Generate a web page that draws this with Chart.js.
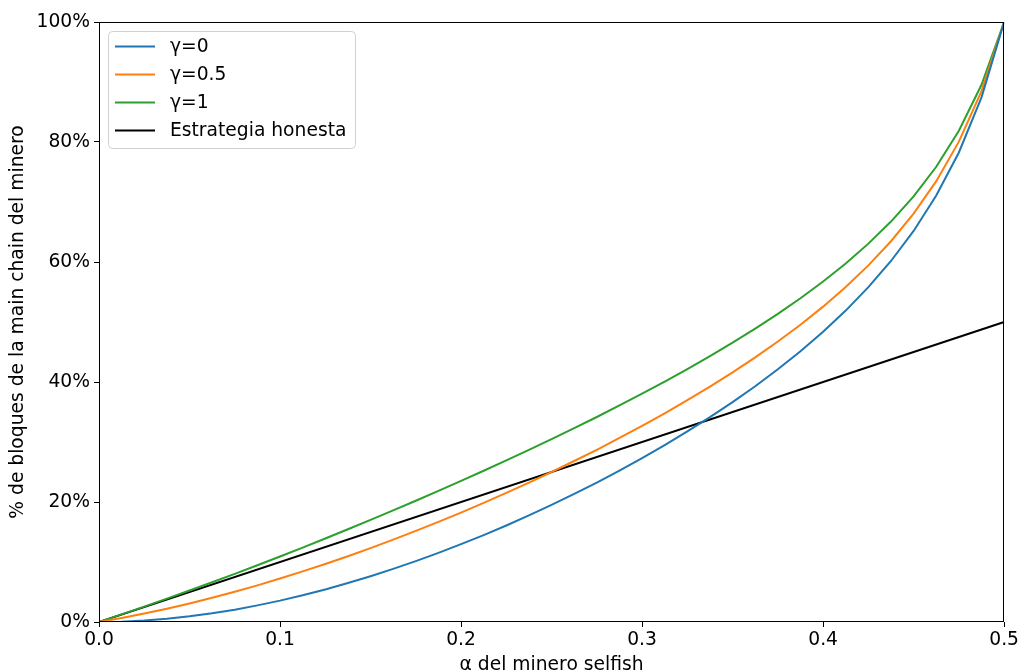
<!DOCTYPE html>
<html>
<head>
<meta charset="utf-8">
<script src="https://cdn.jsdelivr.net/npm/chart.js@4.4.0/dist/chart.umd.min.js"></script>
<style>
  body { margin: 0; background: #fff; }
  #wrap { width: 1021px; height: 671px; }
</style>
</head>
<body>
<div id="wrap"><canvas id="myChart" width="1021" height="671"></canvas></div>
<script>
// alpha del minero selfish
const alphas = [0, 0.0125, 0.025, 0.0375, 0.05, 0.0625, 0.075, 0.0875, 0.1, 0.1125,
  0.125, 0.1375, 0.15, 0.1625, 0.175, 0.1875, 0.2, 0.2125, 0.225, 0.2375,
  0.25, 0.2625, 0.275, 0.2875, 0.3, 0.3125, 0.325, 0.3375, 0.35, 0.3625,
  0.375, 0.3875, 0.4, 0.4125, 0.425, 0.4375, 0.45, 0.4625, 0.475, 0.4875, 0.5];

// % de bloques (0-100)
const gamma0 = [0, 0.06, 0.24, 0.54, 0.94, 1.45, 2.06, 2.77, 3.56, 4.45,
  5.43, 6.49, 7.63, 8.85, 10.14, 11.52, 12.97, 14.49, 16.09, 17.76,
  19.51, 21.34, 23.24, 25.24, 27.31, 29.48, 31.76, 34.14, 36.65, 39.30,
  42.12, 45.13, 48.37, 51.90, 55.80, 60.17, 65.18, 71.07, 78.25, 87.45, 100];
const gamma05 = [0, 0.66, 1.40, 2.21, 3.09, 4.03, 5.04, 6.11, 7.24, 8.43,
  9.67, 10.97, 12.32, 13.72, 15.18, 16.68, 18.24, 19.85, 21.51, 23.23,
  25.00, 26.83, 28.70, 30.67, 32.69, 34.78, 36.96, 39.23, 41.60, 44.10,
  46.74, 49.54, 52.56, 55.83, 59.43, 63.46, 68.06, 73.47, 80.06, 88.49, 100];
const gamma1 = [0, 1.27, 2.56, 3.89, 5.24, 6.62, 8.03, 9.46, 10.92, 12.40,
  13.91, 15.45, 17.01, 18.60, 20.21, 21.85, 23.52, 25.21, 26.94, 28.70,
  30.49, 32.32, 34.17, 36.10, 38.06, 40.08, 42.16, 44.32, 46.56, 48.90,
  51.35, 53.96, 56.74, 59.75, 63.06, 66.74, 70.94, 75.87, 81.87, 89.54, 100];
const honestX = [0, 0.5];
const honest = [0, 50];

const xTicks = [0, 0.1, 0.2, 0.3, 0.4, 0.5];
const yTicks = [0, 20, 40, 60, 80, 100];

const toPoints = (xs, ys) => xs.map((x, i) => ({ x: x, y: ys[i] }));

Chart.defaults.font.family = "'DejaVu Sans', sans-serif";
Chart.defaults.font.size = 18.7;
Chart.defaults.color = "#000";

// marco (spines) + leyenda dentro del grafico
const frameAndLegend = {
  id: "frameAndLegend",
  afterDraw(chart) {
    const ctx = chart.ctx;
    const a = chart.chartArea;
    ctx.save();
    ctx.strokeStyle = "#000";
    ctx.lineWidth = 1;
    const l = Math.round(a.left) + 0.5, t = Math.round(a.top) + 0.5;
    const r = Math.round(a.right) - 0.5, b = Math.round(a.bottom) - 0.5;
    ctx.strokeRect(l, t, r - l, b - t);

    // leyenda
    const bx = 108, by = 31, bw = 247, bh = 117;
    ctx.beginPath();
    ctx.roundRect(bx + 0.5, by + 0.5, bw, bh, 4);
    ctx.fillStyle = "rgba(255,255,255,0.8)";
    ctx.fill();
    ctx.strokeStyle = "#d0d0d0";
    ctx.stroke();
    ctx.font = "18.7px 'DejaVu Sans', sans-serif";
    ctx.textBaseline = "middle";
    chart.data.datasets.forEach((ds, i) => {
      const y = 46.5 + i * 28;
      ctx.beginPath();
      ctx.moveTo(115, y);
      ctx.lineTo(155, y);
      ctx.strokeStyle = ds.borderColor;
      ctx.lineWidth = 2;
      ctx.stroke();
      ctx.fillStyle = "#000";
      ctx.fillText(ds.label, 170, y + 1);
    });
    ctx.restore();
  }
};

new Chart("myChart", {
  type: "line",
  data: {
    datasets: [
      { label: "γ=0", data: toPoints(alphas, gamma0), borderColor: "#1f77b4" },
      { label: "γ=0.5", data: toPoints(alphas, gamma05), borderColor: "#ff7f0e" },
      { label: "γ=1", data: toPoints(alphas, gamma1), borderColor: "#2ca02c" },
      { label: "Estrategia honesta", data: toPoints(honestX, honest), borderColor: "#000000" },
    ],
  },
  options: {
    responsive: false,
    animation: false,
    layout: { padding: { top: 22, right: 16, left: 0, bottom: 0 } },
    elements: {
      point: { radius: 0 },
      line: { borderWidth: 2, tension: 0, fill: false },
    },
    plugins: {
      legend: { display: false },
      tooltip: { enabled: false },
    },
    scales: {
      x: {
        type: "linear",
        min: 0,
        max: 0.5,
        afterFit: (s) => { s.height = 49; },
        afterBuildTicks: (s) => { s.ticks = xTicks.map((v) => ({ value: v })); },
        ticks: { padding: 2, callback: (v) => v.toFixed(1) },
        grid: { display: true, drawOnChartArea: false, drawTicks: true, tickLength: 5, color: "#000" },
        border: { display: false },
        title: { display: true, text: "α del minero selfish", padding: { top: 0, bottom: -5 } },
      },
      y: {
        min: 0,
        max: 100,
        afterFit: (s) => { s.width = 99; },
        afterBuildTicks: (s) => { s.ticks = yTicks.map((v) => ({ value: v })); },
        ticks: { padding: 4, callback: (v) => v + "%" },
        grid: { display: true, drawOnChartArea: false, drawTicks: true, tickLength: 5, color: "#000" },
        border: { display: false },
        title: { display: true, text: "% de bloques de la main chain del minero", padding: { top: 7, bottom: 0 } },
      },
    },
  },
  plugins: [frameAndLegend],
});
</script>
</body>
</html>
